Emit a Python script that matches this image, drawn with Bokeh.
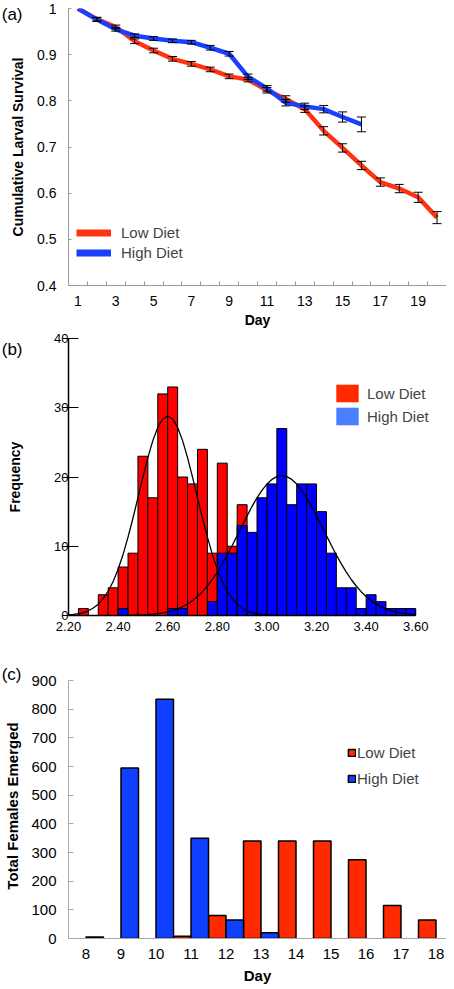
from bokeh.plotting import figure
from bokeh.layouts import column
from bokeh.models import (ColumnDataSource, FixedTicker, Legend, LegendItem, LinearAxis,
                          Whisker, TeeHead, NumeralTickFormatter, Range1d)
from bokeh.transform import dodge
from bokeh.embed import file_html
from bokeh.resources import INLINE

FONT = "Liberation Sans"
NAN = float("nan")

# ---------------- data: panel (a) cumulative larval survival ----------------
low_days = [1, 2, 3, 4, 5, 6, 7, 8, 9, 10, 11, 12, 13, 14, 15, 16, 17, 18, 19, 20]
low_surv = [1.000, 0.977, 0.960, 0.929, 0.909, 0.891, 0.880, 0.868, 0.853, 0.846,
            0.823, 0.804, 0.782, 0.735, 0.698, 0.660, 0.624, 0.610, 0.591, 0.547]
low_err = [0.0, 0.004, 0.004, 0.005, 0.005, 0.005, 0.005, 0.005, 0.005, 0.005,
           0.006, 0.007, 0.007, 0.009, 0.009, 0.009, 0.009, 0.009, 0.011, 0.013]
high_days = [1, 2, 3, 4, 5, 6, 7, 8, 9, 10, 11, 12, 13, 14, 15, 16]
high_surv = [1.000, 0.976, 0.955, 0.941, 0.935, 0.930, 0.927, 0.915, 0.902, 0.852,
             0.827, 0.796, 0.788, 0.782, 0.765, 0.749]
high_err = [0.0, 0.004, 0.004, 0.004, 0.004, 0.004, 0.004, 0.005, 0.005, 0.006,
            0.006, 0.007, 0.007, 0.008, 0.011, 0.016]
a_xticks = [1, 3, 5, 7, 9, 11, 13, 15, 17, 19]
a_yticks = [0.4, 0.5, 0.6, 0.7, 0.8, 0.9, 1.0]

# ---------------- data: panel (b) histogram ----------------
bin_left = [2.20, 2.24, 2.28, 2.32, 2.36, 2.40, 2.44, 2.48, 2.52, 2.56, 2.60, 2.64,
            2.68, 2.72, 2.76, 2.80, 2.84, 2.88, 2.92, 2.96, 3.00, 3.04, 3.08, 3.12,
            3.16, 3.20, 3.24, 3.28, 3.32, 3.36, 3.40, 3.44, 3.48, 3.52, 3.56]
bin_width = 0.04
low_freq = [0, 1, 0, 3, 4, 7, 9, 23, 17, 32, 33, 20, 19, 24, 9, 22, 10, 16,
            0, 0, 0, 0, 0, 0, 0, 0, 0, 0, 0, 0, 0, 0, 0, 0, 0]
high_freq = [0, 0, 0, 0, 0, 1, 0, 0, 0, 0, 1, 1, 0, 0, 2, 9, 9, 13, 12, 17,
             19, 27, 16, 19, 19, 15, 9, 4, 4, 1, 3, 2, 1, 1, 1]
low_curve_x = [2.20, 2.22, 2.24, 2.26, 2.28, 2.30, 2.32, 2.34, 2.36, 2.38, 2.40, 2.42,
               2.44, 2.46, 2.48, 2.50, 2.52, 2.54, 2.56, 2.58, 2.60, 2.62, 2.64, 2.66,
               2.68, 2.70, 2.72, 2.74, 2.76, 2.78, 2.80, 2.82, 2.84, 2.86, 2.88, 2.90,
               2.92, 2.94, 2.96, 2.98, 3.00, 3.02, 3.04]
low_curve_y = [0.08, 0.15, 0.25, 0.42, 0.68, 1.08, 1.64, 2.44, 3.51, 4.92, 6.68, 8.82,
               11.31, 14.08, 17.02, 19.99, 22.80, 25.25, 27.16, 28.38, 28.80, 28.38,
               27.16, 25.25, 22.80, 19.99, 17.02, 14.08, 11.31, 8.82, 6.68, 4.92, 3.51,
               2.44, 1.64, 1.08, 0.68, 0.42, 0.25, 0.15, 0.08, 0.04, 0.02]
high_curve_x = [2.44, 2.46, 2.48, 2.50, 2.52, 2.54, 2.56, 2.58, 2.60, 2.62, 2.64, 2.66,
                2.68, 2.70, 2.72, 2.74, 2.76, 2.78, 2.80, 2.82, 2.84, 2.86, 2.88, 2.90,
                2.92, 2.94, 2.96, 2.98, 3.00, 3.02, 3.04, 3.06, 3.08, 3.10, 3.12, 3.14,
                3.16, 3.18, 3.20, 3.22, 3.24, 3.26, 3.28, 3.30, 3.32, 3.34, 3.36, 3.38,
                3.40, 3.42, 3.44, 3.46, 3.48, 3.50, 3.52, 3.54, 3.56, 3.58, 3.60]
high_curve_y = [0.03, 0.04, 0.06, 0.09, 0.13, 0.19, 0.27, 0.38, 0.52, 0.71, 0.96, 1.27,
                1.66, 2.15, 2.73, 3.44, 4.26, 5.20, 6.27, 7.46, 8.74, 10.11, 11.53, 12.97,
                14.39, 15.75, 16.99, 18.08, 18.98, 19.65, 20.06, 20.20, 20.06, 19.65,
                18.98, 18.08, 16.99, 15.75, 14.39, 12.97, 11.53, 10.11, 8.74, 7.46, 6.27,
                5.20, 4.26, 3.44, 2.73, 2.15, 1.66, 1.27, 0.96, 0.71, 0.52, 0.38, 0.27,
                0.19, 0.13]
b_xticks = [2.2, 2.4, 2.6, 2.8, 3.0, 3.2, 3.4, 3.6]
b_yticks = [0, 10, 20, 30, 40]

# ---------------- data: panel (c) females emerged ----------------
c_days = [8, 9, 10, 11, 12, 13, 14, 15, 16, 17, 18]
low_emerged = [0, 0, 0, 8, 80, 340, 340, 340, 275, 115, 65]
high_emerged = [5, 595, 835, 350, 65, 20, 0, 0, 0, 0, 0]
c_yticks = [0, 100, 200, 300, 400, 500, 600, 700, 800, 900]

RED_A, BLUE_A = "#ff3311", "#1a40ff"
RED_B, BLUE_B = "#ff0000", "#0000ff"
RED_C, BLUE_C = "#ff2a00", "#1040ff"
GRAY = "#9a9a9a"
W = 446
LEFT = 65


def base_fig(**kw):
    p = figure(output_backend="svg", toolbar_location=None, width=W,
               min_border_left=LEFT, min_border_right=0, **kw)
    p.grid.visible = False
    p.outline_line_color = None
    p.background_fill_color = "white"
    p.border_fill_color = "white"
    style_axes(p.axis)
    return p


def style_axes(axes):
    for ax in axes:
        ax.major_label_text_font = FONT
        ax.axis_label_text_font = FONT
        ax.axis_label_text_font_style = "bold"
        ax.major_label_text_color = "black"
        ax.axis_label_text_color = "black"
        ax.minor_tick_line_color = None


def letter_axis(p, tick, text, standoff, label, label_size, label_standoff, bounds=None):
    ax = LinearAxis(ticker=FixedTicker(ticks=[tick]),
                    major_label_overrides={tick: text})
    style_axes([ax])
    ax.axis_line_color = None
    ax.major_tick_line_color = None
    ax.major_tick_in = 0
    ax.major_tick_out = 0
    ax.major_label_text_font_size = "17px"
    ax.major_label_standoff = standoff
    ax.axis_label = label
    ax.axis_label_text_font_size = label_size
    ax.axis_label_standoff = label_standoff
    if bounds is not None:
        ax.bounds = bounds
    p.add_layout(ax, "left")
    return ax


# ================= panel (a) =================
pa = base_fig(height=332, min_border_top=8, min_border_bottom=47,
              x_range=Range1d(0.5, 20.5), y_range=Range1d(0.4, 1.0))
for ax in pa.axis:
    ax.axis_line_color = GRAY
    ax.major_tick_line_color = GRAY
    ax.major_label_text_font_size = "14px"
    ax.axis_label_text_font_size = "14px"
pa.xaxis.ticker = FixedTicker(ticks=a_xticks,
                              minor_ticks=[d + 0.5 for d in low_days])
pa.xaxis.major_tick_in = 0
pa.xaxis.major_tick_out = 0
pa.xaxis.minor_tick_line_color = GRAY
pa.xaxis.minor_tick_in = 4
pa.xaxis.minor_tick_out = 0
pa.xaxis.major_label_standoff = 10
pa.xaxis.axis_label = "Day"
pa.xaxis.axis_label_standoff = 3
pa.yaxis.ticker = FixedTicker(ticks=a_yticks)
pa.yaxis.major_label_overrides = {1: "1"}
pa.yaxis.major_tick_in = 3
pa.yaxis.major_tick_out = 0
pa.yaxis.major_label_standoff = 12
letter_axis(pa, 0.987, "(a)", 12, "Cumulative Larval Survival", "14px", -27)

src_low = ColumnDataSource(dict(day=low_days, s=low_surv))
src_high = ColumnDataSource(dict(day=high_days, s=high_surv))
pa.line("day", "s", source=src_low, line_color=RED_A, line_width=4.5)
pa.line("day", "s", source=src_high, line_color=BLUE_A, line_width=4.5)


def whisk(days, vals, errs):
    d = [x for x, e in zip(days, errs) if e > 0]
    lo = [v - e for v, e in zip(vals, errs) if e > 0]
    hi = [v + e for v, e in zip(vals, errs) if e > 0]
    return ColumnDataSource(dict(base=d, lower=lo, upper=hi))


for src in (whisk(low_days, low_surv, low_err), whisk(high_days, high_surv, high_err)):
    w = Whisker(base="base", lower="lower", upper="upper", source=src,
                line_color="black", line_width=1,
                upper_head=TeeHead(size=9, line_color="black", line_width=1),
                lower_head=TeeHead(size=9, line_color="black", line_width=1),
                level="overlay")
    pa.add_layout(w)

leg_a_low = pa.line(x=[NAN, NAN], y=[NAN, NAN], line_color=RED_A, line_width=7)
leg_a_high = pa.line(x=[NAN, NAN], y=[NAN, NAN], line_color=BLUE_A, line_width=7)
leg_a = Legend(items=[LegendItem(label="Low Diet", renderers=[leg_a_low]),
                      LegendItem(label="High Diet", renderers=[leg_a_high])],
               location=(8, 24), padding=0, margin=0, spacing=3,
               glyph_width=35, glyph_height=17, label_height=17, label_standoff=10,
               label_text_font=FONT, label_text_font_size="15px",
               background_fill_alpha=0, border_line_alpha=0)
pa.add_layout(leg_a)

# ================= panel (b) =================
pb = base_fig(height=307, min_border_top=6, min_border_bottom=24,
              x_range=Range1d(2.2, 3.724), y_range=Range1d(0, 40))
for ax in pb.axis:
    ax.axis_line_color = "black"
    ax.axis_line_width = 1.5
    ax.major_tick_line_color = "black"
    ax.major_label_text_font_size = "13px"
    ax.axis_label_text_font_size = "14px"
pb.xaxis.ticker = FixedTicker(ticks=b_xticks)
pb.xaxis.formatter = NumeralTickFormatter(format="0.00")
pb.xaxis.bounds = (2.2, 3.6)
pb.xaxis.major_tick_in = 6
pb.xaxis.major_tick_out = 0
pb.xaxis.major_label_standoff = 6
pb.yaxis.ticker = FixedTicker(ticks=b_yticks)
pb.yaxis.major_tick_in = 10
pb.yaxis.major_tick_out = 6
pb.yaxis.major_label_standoff = -6
letter_axis(pb, 38.4, "(b)", 29, "Frequency", "14px", -24, bounds=(4.4, 40))


def hist_src(freq):
    l = [b for b, f in zip(bin_left, freq) if f > 0]
    return ColumnDataSource(dict(left=l, right=[b + bin_width for b in l],
                                 top=[f for f in freq if f > 0]))


pb.quad(left="left", right="right", bottom=0, top="top", source=hist_src(low_freq),
        fill_color=RED_B, line_color="black", line_width=1)
pb.quad(left="left", right="right", bottom=0, top="top", source=hist_src(high_freq),
        fill_color=BLUE_B, line_color="black", line_width=1)
pb.line(low_curve_x, low_curve_y, line_color="black", line_width=1.3)
pb.line(high_curve_x, high_curve_y, line_color="black", line_width=1.3)

leg_b_low = pb.quad(left=[NAN], right=[NAN], top=[NAN], bottom=[NAN],
                    fill_color="#ff2a00", line_color=None)
leg_b_high = pb.quad(left=[NAN], right=[NAN], top=[NAN], bottom=[NAN],
                     fill_color="#4a80ff", line_color=None)
leg_b = Legend(items=[LegendItem(label="Low Diet", renderers=[leg_b_low]),
                      LegendItem(label="High Diet", renderers=[leg_b_high])],
               location=(265, 188), padding=0, margin=0, spacing=1,
               glyph_width=28, glyph_height=22, label_height=22, label_standoff=6,
               label_text_font=FONT, label_text_font_size="15px",
               background_fill_alpha=0, border_line_alpha=0)
pb.add_layout(leg_b)

# ================= panel (c) =================
pc = base_fig(height=348, min_border_top=34, min_border_bottom=49,
              x_range=Range1d(7.5, 18.3), y_range=Range1d(0, 925))
for ax in pc.axis:
    ax.axis_line_color = "#a8a8a8"
    ax.major_tick_line_color = "#a8a8a8"
    ax.major_label_text_font_size = "15px"
    ax.axis_label_text_font_size = "15px"
pc.xaxis.ticker = FixedTicker(ticks=c_days)
pc.xaxis.major_tick_in = 0
pc.xaxis.major_tick_out = 0
pc.xaxis.major_label_standoff = 10
pc.xaxis.axis_label = "Day"
pc.xaxis.axis_label_standoff = 5
pc.yaxis.ticker = FixedTicker(ticks=c_yticks)
pc.yaxis.bounds = (0, 900)
pc.yaxis.major_tick_in = 5
pc.yaxis.major_tick_out = 0
pc.yaxis.major_label_standoff = 12
letter_axis(pc, 921, "(c)", 7, "Total Females Emerged", "15px", -22, bounds=(0, 900))

src_cl = ColumnDataSource(dict(day=[d for d, v in zip(c_days, low_emerged) if v > 0],
                               v=[v for v in low_emerged if v > 0]))
src_ch = ColumnDataSource(dict(day=[d for d, v in zip(c_days, high_emerged) if v > 0],
                               v=[v for v in high_emerged if v > 0]))
r_cl = pc.vbar(x=dodge("day", -0.25), top="v", width=0.5, source=src_cl,
               fill_color=RED_C, line_color="black", line_width=1.5)
r_ch = pc.vbar(x=dodge("day", 0.25), top="v", width=0.5, source=src_ch,
               fill_color=BLUE_C, line_color="black", line_width=1.5)

leg_c = Legend(items=[LegendItem(label="Low Diet", renderers=[r_cl]),
                      LegendItem(label="High Diet", renderers=[r_ch])],
               location=(279, 151), padding=0, margin=0, spacing=9,
               glyph_width=9, glyph_height=9, label_height=9, label_standoff=1,
               label_text_font=FONT, label_text_font_size="15px",
               background_fill_alpha=0, border_line_alpha=0)
pc.add_layout(leg_c)

layout = column(pa, pb, pc, spacing=0)
open("out.html", "w").write(file_html(layout, INLINE))
